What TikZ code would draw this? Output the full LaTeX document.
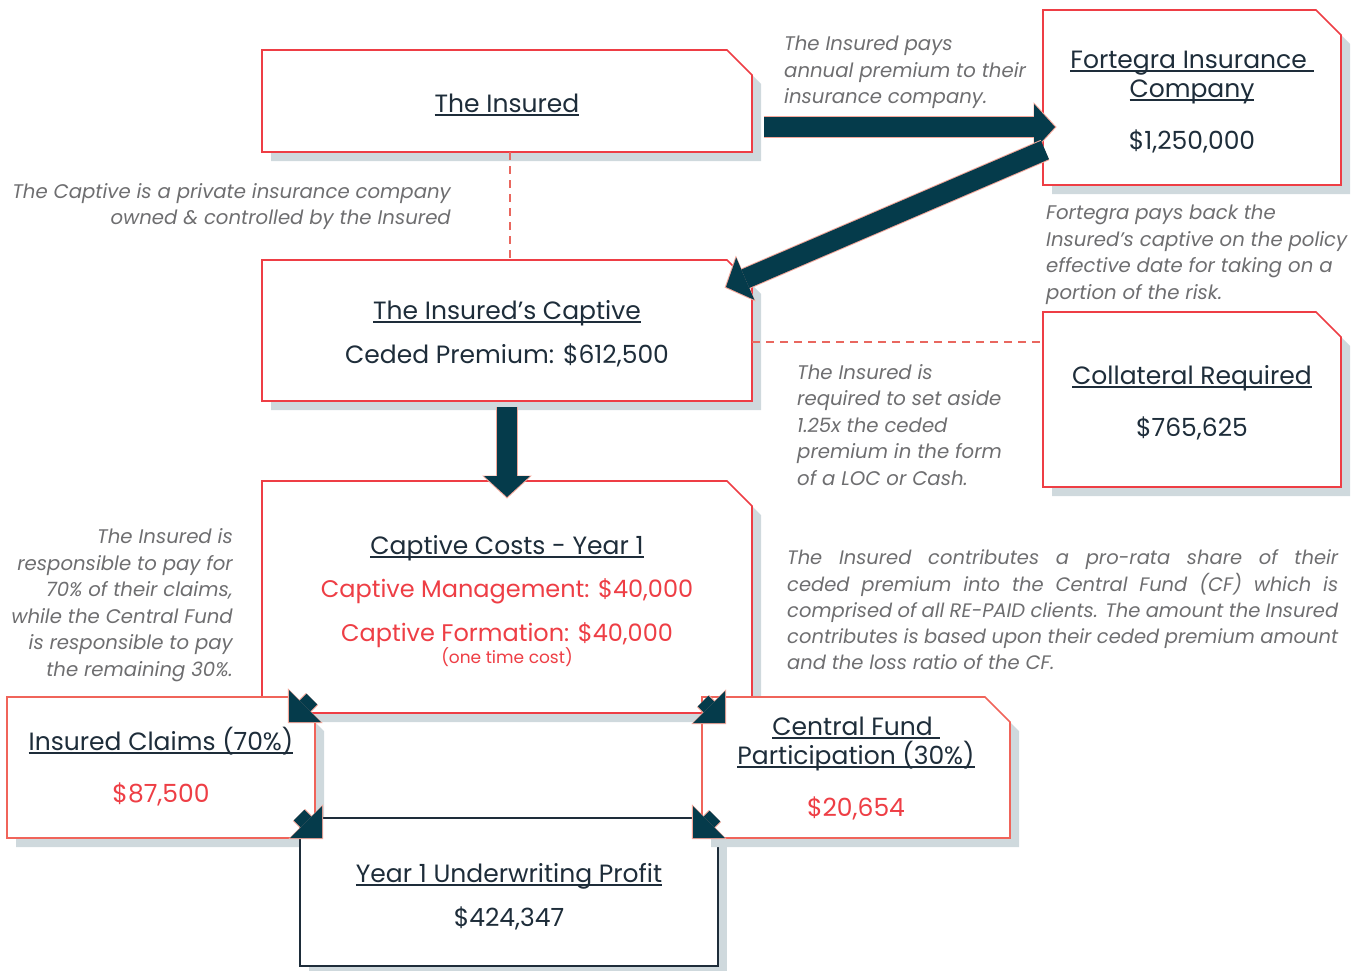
\documentclass[tikz,border=0pt]{standalone}
\usepackage{fontspec}
\setmainfont{Poppins}
\usepackage{tikz}
\usetikzlibrary{
  arrows.meta,calc,positioning
}
\definecolor{boxred}{HTML}{EE3E45}
\definecolor{boxsalmon}{HTML}{F0645A}
\definecolor{shadowgray}{HTML}{CFD9DD}
\definecolor{navy}{HTML}{053B4B}
\definecolor{ink}{HTML}{1E2D3A}
\definecolor{notegray}{HTML}{6E6E70}
\definecolor{halo}{HTML}{F3A79A}
\definecolor{dashred}{HTML}{E9675F}
\pgfdeclarelayer{back}
\pgfsetlayers{back,main}
% underlined heading, rule at a fixed depth
\newcommand{\hd}[1]{\setbox0=\hbox{#1}\rlap{\vrule height -1.5pt depth 3pt width \wd0}\box0}
% struts: top of first line, bottom of last line
\newcommand{\tp}[1]{\rule{0pt}{#1pt}}
\newcommand{\bt}{\rule[-7pt]{0pt}{7pt}}
% outline + shadow of a box with a cut corner
\newcommand{\cutbox}[2]{%
  \fill[shadowgray] ($(#1.south west)+(9,9)$) -- ($(#1.north west)+(9,9)$)
    -- ($(#1.north east)+(-16,9)$) -- ($(#1.north east)+(9,34)$)
    -- ($(#1.south east)+(9,9)$) -- cycle;
  \filldraw[fill=white, draw=#2, line width=1.6pt] (#1.south west) -- (#1.north west)
    -- ($(#1.north east)+(-25,0)$) -- ($(#1.north east)+(0,25)$)
    -- (#1.south east) -- cycle;
}
\newcommand{\flatbox}[2]{%
  \fill[shadowgray] ($(#1.south west)+(9,9)$) rectangle ($(#1.north east)+(9,9)$);
  \filldraw[fill=white, draw=#2, line width=1.6pt] (#1.south west) rectangle (#1.north east);
}
\tikzset{
  box/.style={rectangle, inner sep=0pt, outer sep=0pt, align=center,
    text=ink, font=\fontsize{25}{29}\selectfont},
  note/.style={text=notegray, inner sep=0pt,
    font=\fontsize{19.7}{26.5}\selectfont\itshape},
  dashlink/.style={draw=dashred, line width=1.8pt, dash pattern=on 8pt off 6pt},
  bigarrow/.style={draw=navy, line width=20pt,
    -{Triangle[width=46pt,length=21pt,line width=0pt]},
    preaction={draw=halo, line width=22pt, shorten >=-1.5pt,
      -{Triangle[width=50pt,length=23pt,line width=0pt]}}},
  cornerarrow/.style={draw=navy, line width=15pt,
    -{Triangle[width=45pt,length=22.5pt,line width=0pt]},
    preaction={draw=halo, line width=17pt, shorten >=-1.5pt,
      -{Triangle[width=49pt,length=24.5pt,line width=0pt]}}}
}

\begin{document}
\begin{tikzpicture}[x=1pt,y=-1pt]
  \useasboundingbox (0,0) rectangle (1361,970);
  % boxes
  \node[box, minimum width=490pt, minimum height=102pt] (insured) at (507,101)
    {\tp{30}\hd{The Insured}\bt};
  \node[box, minimum width=298pt, minimum height=175pt] (fortegra) at (1192,97.5)
    {\tp{30}\hd{Fortegra Insurance }\\\hd{Company}\\[23pt]\$1,250,000\bt};
  \node[box, minimum width=490pt, minimum height=141pt] (captive) at (507,330.5)
    {\tp{29}\hd{The Insured’s Captive}\\[15pt]Ceded Premium: \$612,500\bt};
  \node[box, minimum width=298pt, minimum height=175pt] (collateral) at (1192,399.5)
    {\tp{29}\hd{Collateral Required}\\[23pt]\$765,625\bt};
  \node[box, minimum width=490pt, minimum height=232pt] (costs) at (507,597)
    {\tp{31}\hd{Captive Costs - Year 1}\\[14pt]
     {\fontsize{24}{29}\selectfont\textcolor{boxred}{Captive Management: \$40,000}}\\[15pt]
     {\fontsize{24}{29}\selectfont\textcolor{boxred}{Captive Formation: \$40,000}}\\[-7pt]
     {\fontsize{17}{20}\selectfont\textcolor{boxred}{(one time cost)}}\bt};
  \node[box, minimum width=308pt, minimum height=141pt] (claims) at (161,767.5)
    {\tp{25}\hd{Insured Claims (70\%)}\\[23pt]\textcolor{boxred}{\$87,500}\bt};
  \node[box, minimum width=418pt, minimum height=148pt] (profit) at (509,892)
    {\tp{32}\hd{Year 1 Underwriting Profit}\\[15pt]\$424,347\bt};
  \node[box, minimum width=308pt, minimum height=141pt] (fund) at (856,767.5)
    {\tp{24}\hd{Central Fund }\\\hd{Participation (30\%)}\\[23pt]\textcolor{boxred}{\$20,654}\bt};
  \begin{pgfonlayer}{back}
    \cutbox{insured}{boxred}
    \cutbox{fortegra}{boxred}
    \cutbox{captive}{boxred}
    \cutbox{collateral}{boxred}
    \cutbox{costs}{boxred}
    \cutbox{claims}{boxsalmon}
    \flatbox{profit}{ink}
    \cutbox{fund}{boxsalmon}
  \end{pgfonlayer}

  % side notes
  \node[note, anchor=west, align=left] (paynote) at (784,72.5)
    {The Insured pays\\annual premium to their\\insurance company.};
  \node[note, anchor=east, align=right] (ownnote) at (451,206.5)
    {The Captive is a private insurance company\\owned \& controlled by the Insured};
  \node[note, anchor=west, align=left] (backnote) at (1046,255)
    {Fortegra pays back the\\Insured’s captive on the policy\\effective date for taking on a\\portion of the risk.};
  \node[note, anchor=west, align=left] (colnote) at (797,425)
    {The Insured is\\required to set aside\\1.25x the ceded\\premium in the form\\of a LOC or Cash.};
  \node[note, anchor=east, align=right] (claimnote) at (233,605)
    {The Insured is\\responsible to pay for\\70\% of their claims,\\while the Central Fund\\is responsible to pay\\the remaining 30\%.};
  \node[note, anchor=west, text width=551pt, align=justify,
        font=\fontsize{19.5}{26.3}\selectfont\itshape] (fundnote) at (787,610)
    {The Insured contributes a pro-rata share of their\linebreak
     ceded premium into the Central Fund (CF) which is\linebreak
     comprised of all RE-PAID clients. The amount the Insured\linebreak
     contributes is based upon their ceded premium amount\linebreak
     and the loss ratio of the CF.};

  % dashed links
  \coordinate (ownTop) at ($(insured.south)+(3,0)$);
  \draw[dashlink] (ownTop) -- (ownTop |- captive.north);
  \coordinate (colLeft) at ($(captive.east)+(0,11.5)$);
  \draw[dashlink] (colLeft) -- (colLeft -| collateral.west);

  % big arrows
  \coordinate (payStart) at ($(insured.east)+(12,26)$);
  \coordinate (payEnd) at ($(fortegra.west)+(12,29.5)$);
  \draw[bigarrow] (payStart) -- (payEnd);
  \coordinate (backStart) at ($(fortegra.west)+(2,52.5)$);
  \coordinate (backEnd) at ($(captive.north east)+(-26,27)$);
  \draw[bigarrow] (backStart) -- (backEnd);
  \draw[bigarrow] ($(captive.south)+(0,6)$) -- ($(costs.north)+(0,16)$);

  % corner arrows
  \draw[cornerarrow] ($(claims.north east)+(-3,2)$) -- ($(claims.north east)+(-26,25)$);
  \draw[cornerarrow] ($(fund.north west)+(1,4)$) -- ($(fund.north west)+(23,26)$);
  \draw[cornerarrow] ($(profit.north west)+(-1,-3)$) -- ($(profit.north west)+(22,20)$);
  \draw[cornerarrow] ($(profit.north east)+(-3,-2)$) -- ($(profit.north east)+(-25,20)$);
\end{tikzpicture}
\end{document}
